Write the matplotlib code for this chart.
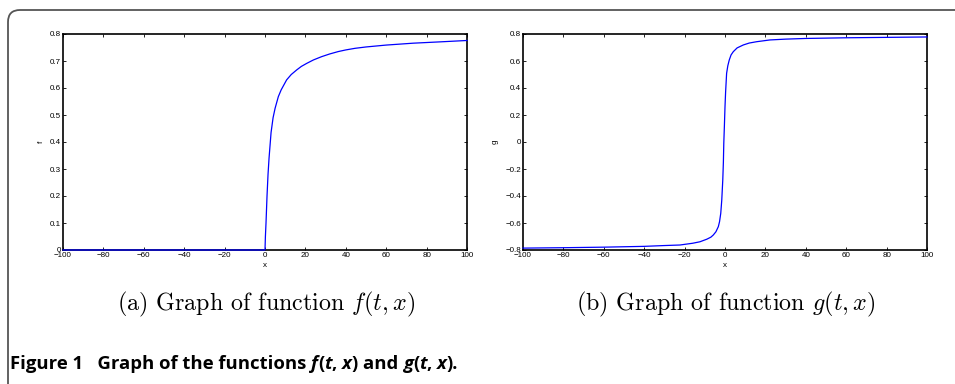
import numpy as np
import matplotlib
matplotlib.use("Agg")
import matplotlib.pyplot as plt
from matplotlib.patches import FancyBboxPatch

# values
f_x = [-100, -50, -1, 0, 0.2, 0.5, 1, 1.5, 2, 3, 4, 5, 6.6, 8, 10.7, 13, 15.7, 18, 20.6,
       24, 28, 32, 36.3, 40, 44.6, 50, 60, 73.4, 87, 100]
f_y = [0, 0, 0, 0, 0.05, 0.1, 0.2, 0.28, 0.34, 0.435, 0.49, 0.525, 0.568, 0.593, 0.63, 0.65,
       0.667, 0.68, 0.691, 0.704, 0.716, 0.726, 0.735, 0.741, 0.747, 0.752, 0.759, 0.766, 0.771, 0.776]

g_x = [-100, -80, -60, -40, -30, -22.3, -16, -12.4, -9, -7, -5.8, -4.5, -3.3, -2.7, -2.1, -1.6,
       -1.1, -0.8, -0.6, -0.3, 0, 0.3, 0.8, 1.4, 2.1, 3, 4.1, 6, 9.1, 12, 15.7, 22.3, 30, 40, 60, 80, 100]
g_y = [-0.786, -0.783, -0.779, -0.773, -0.767, -0.763, -0.75, -0.739, -0.72, -0.705, -0.689, -0.665,
       -0.627, -0.59, -0.528, -0.43, -0.281, -0.15, -0.01, 0.12, 0.261, 0.37, 0.509, 0.565, 0.607,
       0.645, 0.669, 0.697, 0.719, 0.733, 0.743, 0.756, 0.762, 0.767, 0.772, 0.775, 0.778]

x_ticks = [-100, -80, -60, -40, -20, 0, 20, 40, 60, 80, 100]
f_ticks = [0, 0.1, 0.2, 0.3, 0.4, 0.5, 0.6, 0.7, 0.8]
g_ticks = [-0.8, -0.6, -0.4, -0.2, 0, 0.2, 0.4, 0.6, 0.8]

W, H = 955, 384
fig = plt.figure(figsize=(W / 100, H / 100), dpi=100)

# outer rounded frame, in pixel coordinates
frame = FancyBboxPatch((8, -60), 1100, H - 10 + 60,
                       boxstyle="round,pad=0,rounding_size=12",
                       transform=None, fill=False,
                       edgecolor="#555555", linewidth=1.3, clip_on=False)
fig.patches.append(frame)


def make_axes(left, x, y, yticks, ylab, ylabx):
    ax = fig.add_axes([left / W, 1 - 250 / H, 404 / W, 216 / H])
    ax.plot(x, y, color="#0000ff", linewidth=0.9, clip_on=False, zorder=5)
    ax.set_xlim(-100, 100)
    ax.set_ylim(yticks[0], yticks[-1])
    ax.set_xticks(x_ticks)
    ax.set_yticks(yticks)
    ax.set_yticklabels([f"{v:g}".replace("-", "\u2212") for v in yticks])
    ax.set_xticklabels([f"{v:g}".replace("-", "\u2212") for v in x_ticks])
    ax.tick_params(direction="in", top=True, right=True, length=2.5, width=0.6,
                   labelsize=5.8, pad=1.5)
    for s in ax.spines.values():
        s.set_linewidth(1.2)
    for lab in ax.get_xticklabels() + ax.get_yticklabels():
        lab.set_family("Liberation Sans")
    ax.set_xlabel("x", fontsize=5.8, family="Liberation Sans", labelpad=2)
    fig.text(ylabx / W, 1 - 142 / H, ylab, rotation=90, fontsize=5.8,
             family="Liberation Sans", ha="center", va="center")
    return ax


make_axes(63, f_x, f_y, f_ticks, "f", 41)
make_axes(523, g_x, g_y, g_ticks, "g", 495)

# sub captions
fig.text(266 / W, 1 - 304 / H, r"(a) Graph of function $f(t,x)$", fontsize=17.3,
         family="cmr10", math_fontfamily="cm", ha="center", va="center")
fig.text(726 / W, 1 - 304 / H, r"(b) Graph of function $g(t,x)$", fontsize=17.3,
         family="cmr10", math_fontfamily="cm", ha="center", va="center")

# figure caption with italic pieces
pieces = [("Figure 1   Graph of the functions ", "normal"), ("f", "italic"), ("(", "normal"),
          ("t", "italic"), (", ", "normal"), ("x", "italic"), (") and ", "normal"),
          ("g", "italic"), ("(", "normal"), ("t", "italic"), (", ", "normal"),
          ("x", "italic"), (").", "normal")]
renderer = fig.canvas.get_renderer()
xpos = 10
for s, style in pieces:
    kw = dict(fontsize=13.3, family="Open Sans", weight="bold", style=style, va="baseline")
    fig.text(xpos / W, 1 - 369 / H, s, **kw)
    probe = fig.text(0, 0, s + "|", **kw)
    bar = fig.text(0, 0, "|", **kw)
    w = probe.get_window_extent(renderer).width - bar.get_window_extent(renderer).width
    probe.remove()
    bar.remove()
    xpos += w

fig.savefig("out.png", dpi=100)
